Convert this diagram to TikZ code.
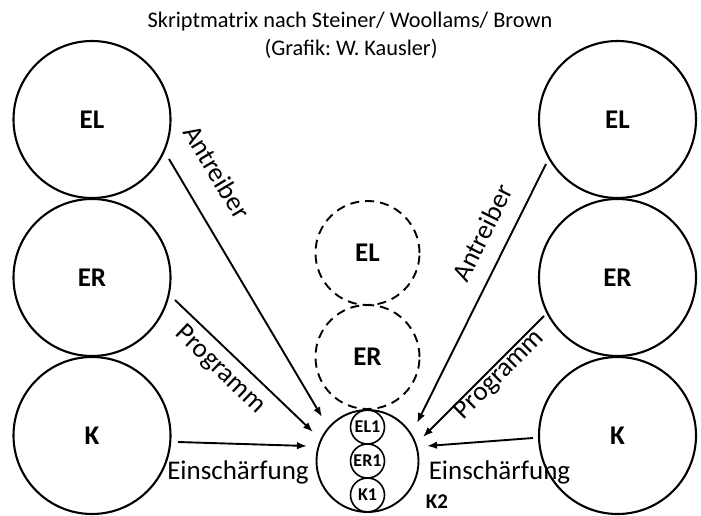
\documentclass[tikz,border=0pt]{standalone}
\usepackage{fontspec}
\setmainfont{Carlito}
\usetikzlibrary{arrows.meta,calc}
\begin{document}
\frenchspacing
\begin{tikzpicture}[x=1pt,y=1pt,
  big/.style={circle,draw,line width=2.1pt,minimum size=157pt,inner sep=0pt,font=\fontsize{27}{28}\selectfont\bfseries},
  dash circ/.style={circle,draw,line width=1.9pt,dash pattern=on 9pt off 6pt,minimum size=104pt,inner sep=0pt,font=\fontsize{27}{28}\selectfont\bfseries},
  kcirc/.style={circle,draw,line width=1.9pt,minimum size=102pt,inner sep=0pt},
  small/.style={circle,draw,line width=1.6pt,minimum size=34pt,inner sep=0pt,font=\fontsize{18}{19}\selectfont\bfseries},
  arr/.style={line width=1.9pt,-{Latex[length=10pt,width=7.5pt]}},
  lbl/.style={font=\fontsize{27}{28}\selectfont,inner sep=0pt},
  ttl/.style={font=\fontsize{22.3}{24}\selectfont,inner sep=0pt}]
\useasboundingbox (0,0) rectangle (701,515);
% titles
\node[ttl] (t1) at (350,493) {Skriptmatrix nach Steiner/ Woollams/ Brown};
\node[ttl] (t2) at (351,466) {(Grafik: W. Kausler)};
% left circles
\node[big] (lEL) at (92,395.5) {EL};
\node[big] (lER) at (92,237.5) {ER};
\node[big] (lK) at (92,79.5) {K};
% right circles
\node[big] (rEL) at (617.5,395.5) {EL};
\node[big] (rER) at (617.5,237.5) {ER};
\node[big] (rK) at (617.5,79.5) {K};
% dashed circles
\node[dash circ] (dEL) at (367.5,262) {EL};
\node[dash circ] (dER) at (367.5,158) {ER};
% K2
\node[kcirc] (K2) at (367.5,54) {};
\node[small] (EL1) at (367.5,88) {EL1};
\node[small] (ER1) at (367.5,54) {ER1};
\node[small] (K1) at (367.5,20) {K1};
\node[font=\fontsize{21}{22}\selectfont\bfseries,inner sep=0pt] (k2l) at (437,13) {K2};
% arrows
\draw[arr] ($(lEL)+(77,-39.5)$) -- ($(K2)+(-45.5,44)$);
\draw[arr] ($(lER)+(83,-22.5)$) -- ($(K2)+(-54.5,29)$);
\draw[arr] ($(lK)+(86,-6.5)$) -- ($(K2)+(-60.5,15)$);
\draw[arr] ($(rEL)+(-71.5,-44.5)$) -- ($(K2)+(49.5,38)$);
\draw[arr] ($(rER)+(-73.5,-38.5)$) -- ($(K2)+(55.5,24)$);
\draw[arr] ($(rK)+(-84.5,-2.5)$) -- ($(K2)+(59.5,15)$);
% labels
\node[lbl,rotate=-59] (la) at (217,343) {Antreiber};
\node[lbl,rotate=-43.7] (lp) at (220,145) {Programm};
\node[lbl] (le) at (238,43) {Einschärfung};
\node[lbl,rotate=63.5] (ra) at (482,282) {Antreiber};
\node[lbl,rotate=45] (rp) at (500,140) {Programm};
\node[lbl] (re) at (499.5,43) {Einschärfung};
\end{tikzpicture}
\end{document}
